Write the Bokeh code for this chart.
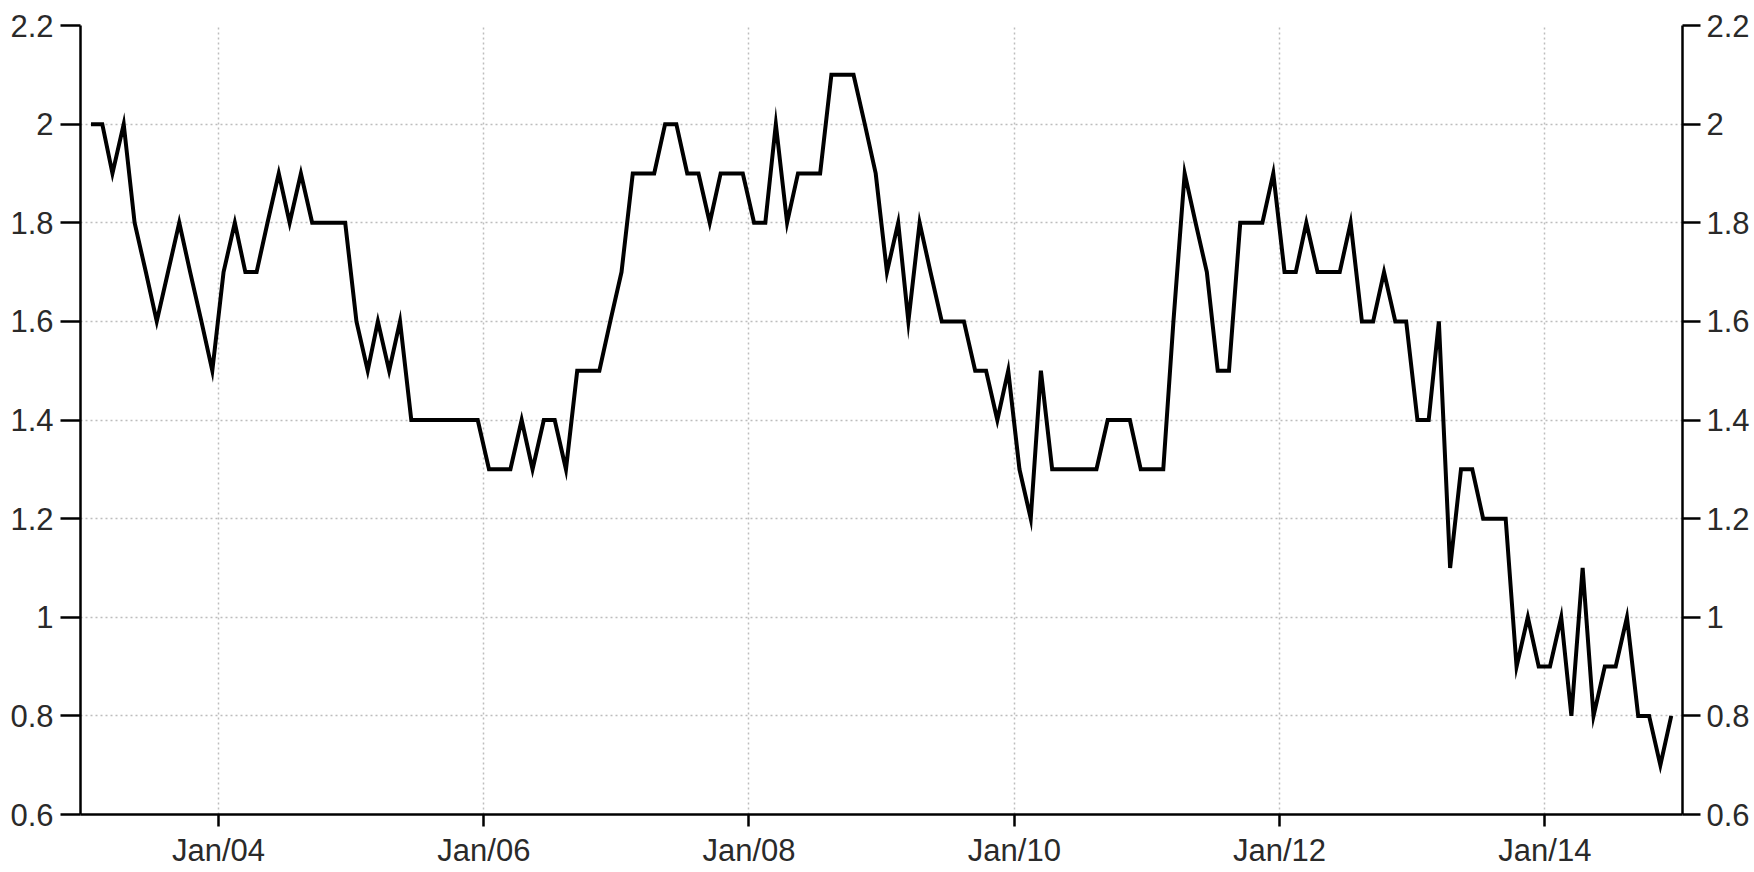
from datetime import datetime
from bokeh.plotting import figure
from bokeh.models import (FixedTicker, LinearAxis, CustomJSTickFormatter, Range1d,
                          ColumnDataSource, DatetimeTickFormatter)
from bokeh.embed import file_html
from bokeh.resources import INLINE

years = list(range(2003, 2015))

v2003 = [2.0, 2.0, 1.9, 2.0, 1.8, 1.7, 1.6, 1.7, 1.8, 1.7, 1.6, 1.5]
v2004 = [1.7, 1.8, 1.7, 1.7, 1.8, 1.9, 1.8, 1.9, 1.8, 1.8, 1.8, 1.8]
v2005 = [1.6, 1.5, 1.6, 1.5, 1.6, 1.4, 1.4, 1.4, 1.4, 1.4, 1.4, 1.4]
v2006 = [1.3, 1.3, 1.3, 1.4, 1.3, 1.4, 1.4, 1.3, 1.5, 1.5, 1.5, 1.6]
v2007 = [1.7, 1.9, 1.9, 1.9, 2.0, 2.0, 1.9, 1.9, 1.8, 1.9, 1.9, 1.9]
v2008 = [1.8, 1.8, 2.0, 1.8, 1.9, 1.9, 1.9, 2.1, 2.1, 2.1, 2.0, 1.9]
v2009 = [1.7, 1.8, 1.6, 1.8, 1.7, 1.6, 1.6, 1.6, 1.5, 1.5, 1.4, 1.5]
v2010 = [1.3, 1.2, 1.5, 1.3, 1.3, 1.3, 1.3, 1.3, 1.4, 1.4, 1.4, 1.3]
v2011 = [1.3, 1.3, 1.6, 1.9, 1.8, 1.7, 1.5, 1.5, 1.8, 1.8, 1.8, 1.9]
v2012 = [1.7, 1.7, 1.8, 1.7, 1.7, 1.7, 1.8, 1.6, 1.6, 1.7, 1.6, 1.6]
v2013 = [1.4, 1.4, 1.6, 1.1, 1.3, 1.3, 1.2, 1.2, 1.2, 0.9, 1.0, 0.9]
v2014 = [0.9, 1.0, 0.8, 1.1, 0.8, 0.9, 0.9, 1.0, 0.8, 0.8, 0.7, 0.8]

values = (v2003 + v2004 + v2005 + v2006 + v2007 + v2008 +
          v2009 + v2010 + v2011 + v2012 + v2013 + v2014)
dates = [datetime(y, m, 15) for y in years for m in range(1, 13)]

x_tick_years = [2004, 2006, 2008, 2010, 2012, 2014]
y_ticks = [0.6, 0.8, 1.0, 1.2, 1.4, 1.6, 1.8, 2.0, 2.2]


def ms(d):
    return (d - datetime(1970, 1, 1)).total_seconds() * 1000.0


x_ticks = [ms(datetime(y, 1, 1)) for y in x_tick_years]

FONT = "Liberation Sans"
FSIZE = "31px"
TXT = "#2a2a2a"

p = figure(width=1752, height=870, x_axis_type="datetime",
           x_range=Range1d(ms(datetime(2002, 12, 17)), ms(datetime(2015, 1, 15))),
           y_range=Range1d(0.6, 2.2),
           output_backend="svg", toolbar_location=None,
           min_border_left=80, min_border_right=68, min_border_top=25, min_border_bottom=55,
           background_fill_color="white", border_fill_color="white")
p.outline_line_color = None

src = ColumnDataSource(dict(x=dates, y=values))
p.line("x", "y", source=src, line_color="black", line_width=4, line_join="miter")

yfmt = CustomJSTickFormatter(code="return String(Math.round(tick*10)/10);")

# bottom axis
xa = p.xaxis[0]
xa.ticker = FixedTicker(ticks=x_ticks)
xa.formatter = DatetimeTickFormatter(years="%b/%y", months="%b/%y", days="%b/%y",
                                     hours="%b/%y", minutes="%b/%y")
xa.major_tick_out = 12
xa.major_tick_in = 0
xa.minor_tick_out = 0
xa.minor_tick_in = 0
xa.major_label_standoff = 6

# left axis
ya = p.yaxis[0]
ya.ticker = FixedTicker(ticks=y_ticks)
ya.formatter = yfmt
ya.major_tick_out = 20
ya.major_tick_in = 0
ya.minor_tick_out = 0
ya.minor_tick_in = 0
ya.major_label_standoff = 7

# right axis
ra = LinearAxis(ticker=FixedTicker(ticks=y_ticks), formatter=yfmt)
ra.major_tick_out = 18
ra.major_tick_in = 0
ra.minor_tick_out = 0
ra.minor_tick_in = 0
ra.major_label_standoff = 6
p.add_layout(ra, "right")

for ax in (xa, ya, ra):
    ax.axis_line_color = "black"
    ax.axis_line_width = 2.5
    ax.major_tick_line_color = "black"
    ax.major_tick_line_width = 2.5
    ax.major_label_text_font = FONT
    ax.major_label_text_font_size = FSIZE
    ax.major_label_text_color = TXT

p.xgrid.ticker = FixedTicker(ticks=x_ticks)
p.ygrid.ticker = FixedTicker(ticks=y_ticks)
for g in (p.xgrid, p.ygrid):
    g.grid_line_color = "#bdbdbd"
    g.grid_line_dash = "2 3"
    g.grid_line_width = 1.5

open("out.html", "w").write(file_html(p, INLINE))
